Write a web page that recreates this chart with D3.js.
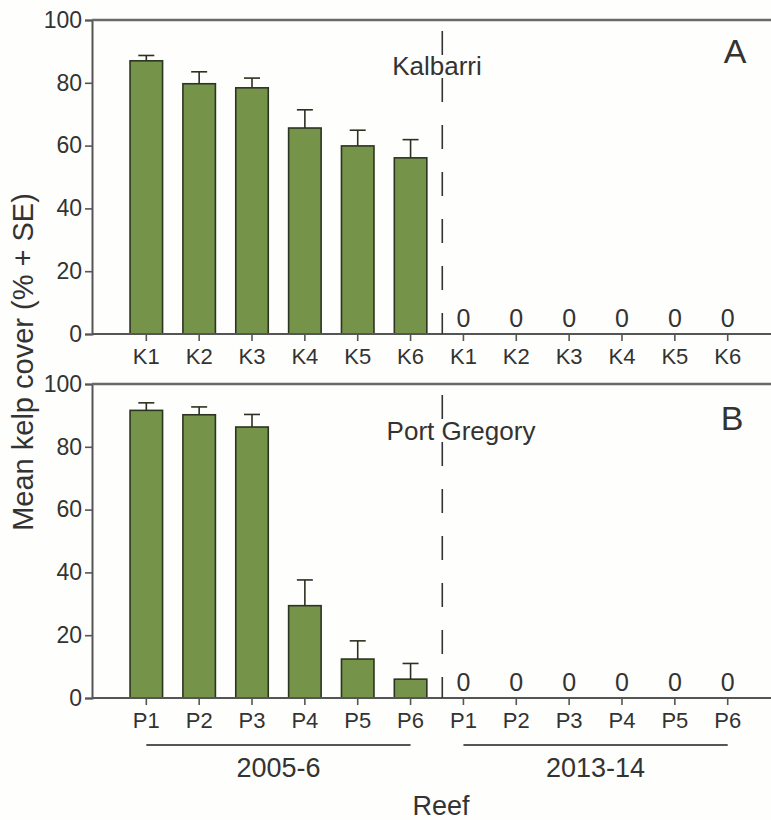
<!DOCTYPE html>
<html>
<head>
<meta charset="utf-8">
<script src="https://cdn.jsdelivr.net/npm/d3@7"></script>
<style>
  body { margin: 0; background: #fefefc; }
  text { font-family: "Liberation Sans", Arial, sans-serif; fill: #333; }
</style>
</head>
<body>
<div class="kelpChart"></div>
<script>
// reef sites and survey periods
let kalbarriSites = ['K1', 'K2', 'K3', 'K4', 'K5', 'K6'];
let portGregorySites = ['P1', 'P2', 'P3', 'P4', 'P5', 'P6'];
let periods = ['2005-6', '2013-14'];
let yTicks = [0, 20, 40, 60, 80, 100];

// mean kelp cover (%) and SE
let kalbarri2005 = [87.0, 79.7, 78.4, 65.6, 59.9, 56.1];
let kalbarri2005SE = [1.7, 3.8, 3.1, 5.8, 5.0, 5.8];
let kalbarri2013 = [0, 0, 0, 0, 0, 0];
let portGregory2005 = [91.6, 90.2, 86.3, 29.4, 12.4, 6.0];
let portGregory2005SE = [2.4, 2.5, 4.0, 8.2, 5.8, 5.0];
let portGregory2013 = [0, 0, 0, 0, 0, 0];

let width = 771;
let height = 820;
let left = 92;

let svg = d3.select('.kelpChart')
  .append('svg')
  .attr('width', width)
  .attr('height', height)
  .attr('viewBox', '0 0 ' + width + ' ' + height);

svg.append('rect').attr('width', width).attr('height', height).attr('fill', '#fefefc');

function buildRows(sites, early, earlySE, late) {
  let rows = [];
  sites.forEach(function(s, i) {
    rows.push({ key: periods[0] + s, site: s, period: 0, mean: early[i], se: earlySE[i] });
  });
  sites.forEach(function(s, i) {
    rows.push({ key: periods[1] + s, site: s, period: 1, mean: late[i], se: 0 });
  });
  return rows;
}

let panels = [
  { rows: buildRows(kalbarriSites, kalbarri2005, kalbarri2005SE, kalbarri2013), top: 20, bottom: 334,
    region: 'Kalbarri', regionX: 437, regionY: 75, letter: 'A', letterX: 735, letterY: 63 },
  { rows: buildRows(portGregorySites, portGregory2005, portGregory2005SE, portGregory2013), top: 384, bottom: 698,
    region: 'Port Gregory', regionX: 461, regionY: 440, letter: 'B', letterX: 732, letterY: 430 }
];

let xScale = d3.scaleBand()
  .domain(panels[0].rows.map(function(d, i) { return i; }))
  .range([left, 782])
  .paddingInner(0.385)
  .paddingOuter(0.72);

panels.forEach(function(p) {
  let yScale = d3.scaleLinear().domain([0, 100]).range([p.bottom, p.top]);
  let g = svg.append('g');

  // bars
  let early = p.rows.filter(function(d) { return d.mean > 0; });
  g.selectAll('.bar')
    .data(early)
    .enter().append('rect')
    .attr('class', 'bar')
    .attr('x', function(d) { return xScale(p.rows.indexOf(d)); })
    .attr('width', xScale.bandwidth())
    .attr('y', function(d) { return yScale(d.mean); })
    .attr('height', function(d) { return yScale(0) - yScale(d.mean); })
    .attr('fill', '#76934a')
    .attr('stroke', '#2c3422')
    .attr('stroke-width', 1.6);

  // error bars
  let err = g.selectAll('.err')
    .data(early)
    .enter().append('g')
    .attr('class', 'err')
    .attr('stroke', '#2c3020')
    .attr('stroke-width', 1.6);
  err.append('line')
    .attr('x1', function(d) { return xScale(p.rows.indexOf(d)) + xScale.bandwidth() / 2; })
    .attr('x2', function(d) { return xScale(p.rows.indexOf(d)) + xScale.bandwidth() / 2; })
    .attr('y1', function(d) { return yScale(d.mean); })
    .attr('y2', function(d) { return yScale(d.mean + d.se); });
  err.append('line')
    .attr('x1', function(d) { return xScale(p.rows.indexOf(d)) + xScale.bandwidth() / 2 - 8; })
    .attr('x2', function(d) { return xScale(p.rows.indexOf(d)) + xScale.bandwidth() / 2 + 8; })
    .attr('y1', function(d) { return yScale(d.mean + d.se); })
    .attr('y2', function(d) { return yScale(d.mean + d.se); });

  // zero labels
  g.selectAll('.zero')
    .data(p.rows.filter(function(d) { return d.mean === 0; }))
    .enter().append('text')
    .attr('class', 'zero')
    .attr('x', function(d) { return xScale(p.rows.indexOf(d)) + xScale.bandwidth() / 2; })
    .attr('y', yScale(0) - 7)
    .attr('text-anchor', 'middle')
    .attr('font-size', 25)
    .text('0');

  // y axis
  let yAxis = g.append('g')
    .attr('transform', 'translate(' + left + ',0)')
    .call(d3.axisLeft(yScale).tickValues(yTicks).tickSize(7).tickPadding(3));
  yAxis.select('.domain').attr('stroke', '#555').attr('stroke-width', 2);
  yAxis.selectAll('.tick line').attr('stroke', '#555').attr('stroke-width', 1.6);
  yAxis.selectAll('.tick text').attr('font-size', 23).attr('fill', '#333')
    .attr('font-family', '"Liberation Sans", Arial, sans-serif');

  // x axis
  let xAxis = g.append('g')
    .attr('transform', 'translate(0,' + p.bottom + ')')
    .call(d3.axisBottom(xScale).tickSize(7).tickPadding(7)
      .tickFormat(function(i) { return p.rows[i].site; }));
  xAxis.select('.domain').remove();
  xAxis.selectAll('.tick line').attr('stroke', '#555').attr('stroke-width', 1.6);
  xAxis.selectAll('.tick text').attr('font-size', 22).attr('fill', '#333')
    .attr('font-family', '"Liberation Sans", Arial, sans-serif');

  g.append('line')
    .attr('x1', left).attr('x2', width)
    .attr('y1', p.bottom).attr('y2', p.bottom)
    .attr('stroke', '#555').attr('stroke-width', 2);
  g.append('line')
    .attr('x1', left).attr('x2', width)
    .attr('y1', p.top).attr('y2', p.top)
    .attr('stroke', '#6a6a6a').attr('stroke-width', 2.4);

  // dashed divider between periods
  let divX = xScale(5) + xScale.bandwidth() / 2 + xScale.step() * 0.6;
  g.append('line')
    .attr('x1', divX).attr('x2', divX)
    .attr('y1', p.top + 11).attr('y2', p.bottom)
    .attr('stroke', '#333').attr('stroke-width', 1.6)
    .attr('stroke-dasharray', '24,23');

  g.append('text')
    .attr('x', p.regionX).attr('y', p.regionY)
    .attr('text-anchor', 'middle')
    .attr('font-size', 26)
    .text(p.region);

  g.append('text')
    .attr('x', p.letterX).attr('y', p.letterY)
    .attr('text-anchor', 'middle')
    .attr('font-size', 34)
    .attr('fill', '#222')
    .text(p.letter);
});

// period brackets under the lower panel
periods.forEach(function(name, k) {
  let x0 = xScale(k * 6) + xScale.bandwidth() / 2;
  let x1 = xScale(k * 6 + 5) + xScale.bandwidth() / 2;
  svg.append('line')
    .attr('x1', x0).attr('x2', x1)
    .attr('y1', 745).attr('y2', 745)
    .attr('stroke', '#555').attr('stroke-width', 1.8);
  svg.append('text')
    .attr('x', (x0 + x1) / 2).attr('y', 777)
    .attr('text-anchor', 'middle')
    .attr('font-size', 27)
    .text(name);
});

svg.append('text')
  .attr('x', 441).attr('y', 815)
  .attr('text-anchor', 'middle')
  .attr('font-size', 27)
  .text('Reef');

svg.append('text')
  .attr('transform', 'translate(33,362) rotate(-90)')
  .attr('text-anchor', 'middle')
  .attr('font-size', 29)
  .text('Mean kelp cover (% + SE)');
</script>
</body>
</html>
